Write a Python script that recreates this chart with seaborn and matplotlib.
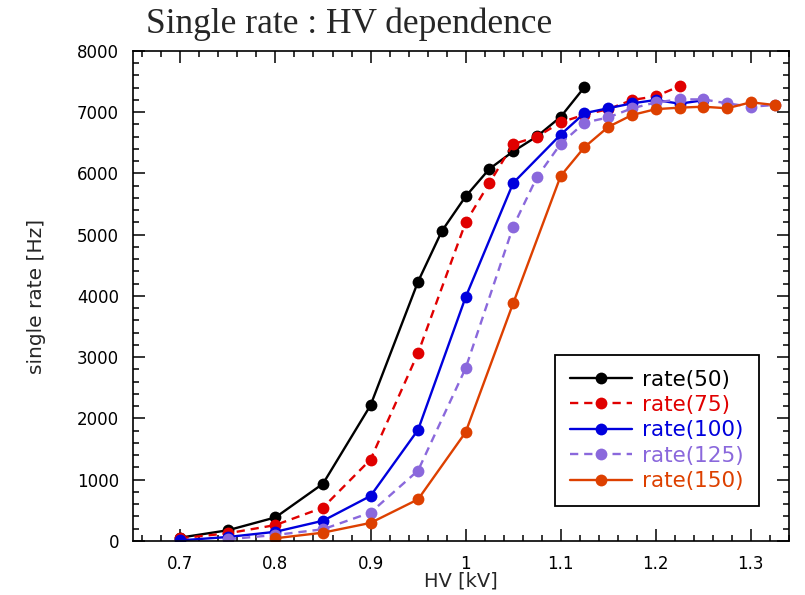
import matplotlib
matplotlib.use('Agg')
import matplotlib.pyplot as plt
import seaborn as sns
from matplotlib.ticker import MultipleLocator

# series: HV [kV] and single rate [Hz]
hv_50 = [0.7, 0.75, 0.8, 0.85, 0.9, 0.95, 0.975, 1.0, 1.025, 1.05, 1.075, 1.1, 1.125]
rate_50 = [55, 175, 385, 935, 2215, 4235, 5060, 5625, 6075, 6360, 6605, 6925, 7410]

hv_75 = [0.7, 0.75, 0.8, 0.85, 0.9, 0.95, 1.0, 1.025, 1.05, 1.075, 1.1, 1.125, 1.15, 1.175, 1.2, 1.225]
rate_75 = [45, 125, 260, 545, 1330, 3070, 5200, 5845, 6480, 6600, 6835, 6960, 7050, 7200, 7260, 7425]

hv_100 = [0.7, 0.75, 0.8, 0.85, 0.9, 0.95, 1.0, 1.05, 1.1, 1.125, 1.15, 1.175, 1.2, 1.225, 1.25]
rate_100 = [10, 65, 150, 330, 735, 1815, 3980, 5845, 6635, 6985, 7065, 7145, 7200, 7140, 7195]

hv_125 = [0.75, 0.8, 0.85, 0.9, 0.95, 1.0, 1.05, 1.075, 1.1, 1.125, 1.15, 1.175, 1.2, 1.225, 1.25, 1.275, 1.3, 1.325]
rate_125 = [28, 98, 191, 463, 1150, 2820, 5132, 5940, 6485, 6830, 6915, 7064, 7160, 7210, 7210, 7145, 7090, 7118]

hv_150 = [0.8, 0.85, 0.9, 0.95, 1.0, 1.05, 1.1, 1.125, 1.15, 1.175, 1.2, 1.225, 1.25, 1.275, 1.3, 1.325]
rate_150 = [44, 136, 295, 680, 1775, 3880, 5960, 6430, 6760, 6955, 7050, 7075, 7090, 7065, 7162, 7118]

labels = ['rate(50)', 'rate(75)', 'rate(100)', 'rate(125)', 'rate(150)']

sns.set_style('ticks')
plt.rcParams['font.family'] = ['DejaVu Sans']

fig = plt.figure(figsize=(8.05, 5.95), dpi=100)
ax = fig.add_axes([0.165, 0.0908, 0.815, 0.8235])

dashed = (0, (3.5, 2.5))
series = [
    (hv_50, rate_50, '#000000', '-'),
    (hv_75, rate_75, '#e00000', dashed),
    (hv_100, rate_100, '#0000dd', '-'),
    (hv_125, rate_125, '#8a68dc', dashed),
    (hv_150, rate_150, '#dd4000', '-'),
]
for (x, y, c, ls), lab in zip(series, labels):
    sns.lineplot(x=x, y=y, ax=ax, color=c, linestyle=ls, linewidth=1.7,
                 marker='o', markersize=8.5, markeredgewidth=0, label=lab)

ax.set_xlim(0.65, 1.34)
ax.set_ylim(0, 8000)
ax.xaxis.set_minor_locator(MultipleLocator(0.02))
ax.yaxis.set_major_locator(MultipleLocator(1000))
ax.yaxis.set_minor_locator(MultipleLocator(200))
ax.set_xticks([0.7, 0.8, 0.9, 1.0, 1.1, 1.2, 1.3])
ax.set_xticklabels(['0.7', '0.8', '0.9', '1', '1.1', '1.2', '1.3'])

ax.tick_params(which='both', direction='in', top=True, right=True, width=1.1, colors='black')
ax.tick_params(which='major', length=8.5, labelsize=12, pad=10)
ax.tick_params(which='minor', length=4.5)
for s in ax.spines.values():
    s.set_linewidth(1.2)
    s.set_color('black')

ax.set_xlabel('HV [kV]', fontsize=14, labelpad=-1)
ax.set_ylabel('single rate [Hz]', fontsize=14.5, labelpad=22)

fig.text(0.181, 1 - 33 / 595, 'Single rate : HV dependence', family='Liberation Serif',
         fontsize=25.5, va='baseline', ha='left')

leg = ax.legend(loc='lower right', bbox_to_anchor=(0.954, 0.071), borderaxespad=0,
                fontsize=15.5, labelcolor='linecolor', fancybox=False, framealpha=1,
                edgecolor='black', handlelength=2.9, handletextpad=0.45,
                labelspacing=0.25, borderpad=0.7)
leg.get_frame().set_linewidth(1.3)

fig.savefig('out.png', dpi=100)
